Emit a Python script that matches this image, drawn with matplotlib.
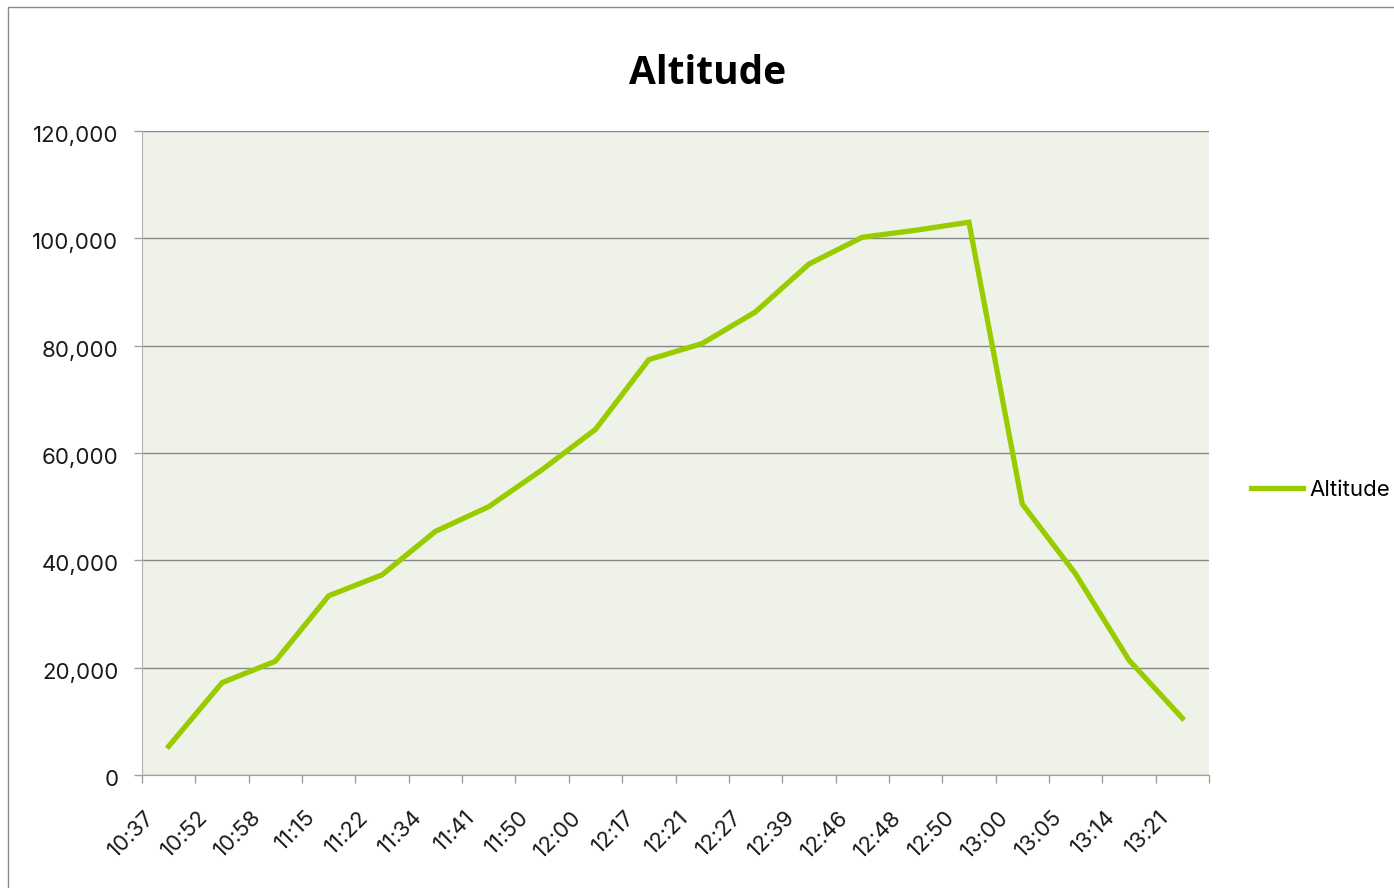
import matplotlib
matplotlib.use("Agg")
import matplotlib.pyplot as plt
from matplotlib.patches import Rectangle
from matplotlib.ticker import FuncFormatter, FixedLocator
from matplotlib.transforms import ScaledTranslation

categories = ["10:37", "10:52", "10:58", "11:15", "11:22", "11:34", "11:41", "11:50",
              "12:00", "12:17", "12:21", "12:27", "12:39", "12:46", "12:48", "12:50",
              "13:00", "13:05", "13:14", "13:21"]
altitude = [5350, 17200, 21200, 33400, 37300, 45400, 50000, 56900, 64400, 77400,
            80400, 86300, 95200, 100200, 101500, 103000, 50500, 37450, 21400, 10600]
series_name = "Altitude"
title = "Altitude"
y_ticks = [0, 20000, 40000, 60000, 80000, 100000, 120000]

plt.rcParams['font.family'] = ['Inter', 'DejaVu Sans']

W, H = 1394, 888
fig = plt.figure(figsize=(W / 100, H / 100), dpi=100)
fig.patch.set_facecolor("white")

# outer chart border
fig.patches.append(Rectangle((8 / W, -0.2), 1.5, (H - 7) / H + 0.2,
                             transform=fig.transFigure, fill=False,
                             edgecolor="#8a8a8a", linewidth=1.0))

left, right, top, bottom = 142, 1209, 131, 775
ax = fig.add_axes([left / W, 1 - bottom / H, (right - left) / W, (bottom - top) / H])
ax.set_facecolor("#eff2e9")

x = list(range(len(categories)))
ax.plot(x, altitude, color="#99cc00", linewidth=3.8, solid_joinstyle="miter",
        label=series_name, zorder=3)

ax.set_xlim(-0.5, len(categories) - 0.5)
ax.set_ylim(0, 120000)
ax.set_yticks(y_ticks)
ax.yaxis.set_major_formatter(FuncFormatter(lambda v, p: f"{int(v):,}"))
ax.grid(axis="y", color="#878787", linewidth=1.0)
ax.set_axisbelow(True)

ax.set_xticks(x)
ax.set_xticklabels(categories, rotation=45, ha="right", va="center",
                   rotation_mode="anchor", fontsize=16, color="#1a1a1a")
ax.xaxis.set_minor_locator(FixedLocator([i - 0.5 for i in range(len(categories) + 1)]))
ax.tick_params(axis="x", which="major", length=0, pad=28)
ax.tick_params(axis="x", which="minor", length=6, width=1, color="#a0a0a0", direction="out")
ax.tick_params(axis="y", length=6, width=1, color="#a0a0a0", labelsize=16,
               labelcolor="#1a1a1a", pad=11)
for lab in ax.get_xticklabels():
    lab.set_transform(lab.get_transform() + ScaledTranslation(-17 / 100, 0, fig.dpi_scale_trans))
for lab in ax.get_yticklabels():
    lab.set_transform(lab.get_transform() + ScaledTranslation(0, -3 / 100, fig.dpi_scale_trans))

for s in ["top", "right"]:
    ax.spines[s].set_visible(False)
ax.spines["left"].set_color("#b0b0b0")
ax.spines["bottom"].set_color("#a0a0a0")

fig.text(708 / W, 1 - 84 / H, title, fontsize=28, fontweight="bold",
         family=["Open Sans", "DejaVu Sans"],
         ha="center", va="baseline", color="black")

leg = ax.legend(loc="center left", bbox_to_anchor=(1251 / W, 1 - 490 / H),
                bbox_transform=fig.transFigure, frameon=False, fontsize=16,
                handlelength=2.35, handletextpad=0.3, borderpad=0, borderaxespad=0)

fig.savefig("out.png", dpi=100)
